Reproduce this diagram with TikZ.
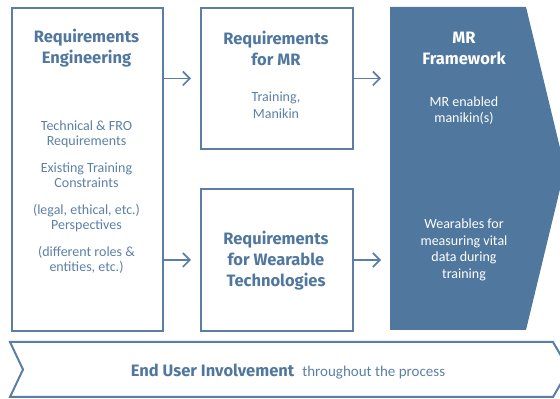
\documentclass[tikz,border=0pt]{standalone}
\usepackage{fontspec}
\setmainfont{Carlito}
\newfontfamily\headfont{Fira Sans}
\usetikzlibrary{arrows.meta}
\definecolor{mrblue}{HTML}{50779E}
\definecolor{mrline}{HTML}{5A7EA5}
\definecolor{mrtext}{HTML}{5C80A6}

\begin{document}
\begin{tikzpicture}[x=1pt, y=1pt,
    box/.style={draw=mrline, line width=2pt, inner sep=0pt, anchor=north west},
    head/.style={font=\headfont\bfseries\fontsize{16.5}{21}\selectfont, text=mrblue, align=center},
    body/.style={font=\fontsize{14}{16.5}\selectfont, text=mrtext, align=center},
    arr/.style={draw=mrline, line width=1.6pt, -{Straight Barb[length=7pt, width=14pt]}}
]
    \useasboundingbox (0,0) rectangle (560,399);
    \clip (0,0) rectangle (560,399);

    % Requirements engineering (left column)
    \node[box, minimum width=151, minimum height=323] (re) at (11,392) {};
    \node[head] (reH) at (86.5,351) {Requirements\\Engineering};
    \node[body, font=\fontsize{14}{14.5}\selectfont] (reB) at (86.5,202) {Technical \& FRO\\Requirements\\[13pt]Existing Training\\Constraints\\[13pt](legal, ethical, etc.)\\Perspectives\\[13pt](different roles \&\\entities, etc.)};

    % Requirements for MR (top middle)
    \node[box, minimum width=152, minimum height=141] (rmr) at (200,392) {};
    \node[head] (rmrH) at (276,351) {Requirements\\for MR};
    \node[body] (rmrB) at (276,294) {Training,\\Manikin};

    % Requirements for wearables (bottom middle)
    \node[box, minimum width=152, minimum height=142] (rwt) at (200,211) {};
    \node[head] (rwtH) at (276,138.5) {Requirements\\for Wearable\\Technologies};

    % MR framework - filled chevron, tip runs past the right border
    \fill[mrblue] (390,392) -- (526,392) -- (565,230.5) -- (526,69) -- (390,69) -- cycle;
    \coordinate (fw) at (390,230.5);
    \node[head, text=white] (fwH) at (464,351) {MR\\Framework};
    \node[body, text=white] (fwB1) at (464,288.5) {MR enabled\\manikin(s)};
    \node[body, text=white] (fwB2) at (464,149) {Wearables for\\measuring vital\\data during\\training};

    % Arrows between the columns
    \draw[arr] (re.east |- rmr.west) -- ([xshift=-9pt]rmr.west);
    \draw[arr] (re.east |- rwt.west) -- ([xshift=-9pt]rwt.west);
    \draw[arr] (rmr.east) -- ([xshift=-9pt]fw |- rmr.east);
    \draw[arr] (rwt.east) -- ([xshift=-9pt]fw |- rwt.east);

    % End user involvement band
    \draw[mrline, line width=2pt] (10,57) -- (553,57) -- (569,29.5) -- (553,2) -- (10,2) -- (23,29.5) -- cycle;
    \node[text=mrtext, font=\fontsize{15}{17}\selectfont] (eu) at (288,27.5)
        {{\headfont\bfseries\fontsize{16.5}{18}\selectfont\color{mrblue}End User Involvement}\hspace{8pt}throughout the process};
\end{tikzpicture}
\end{document}
